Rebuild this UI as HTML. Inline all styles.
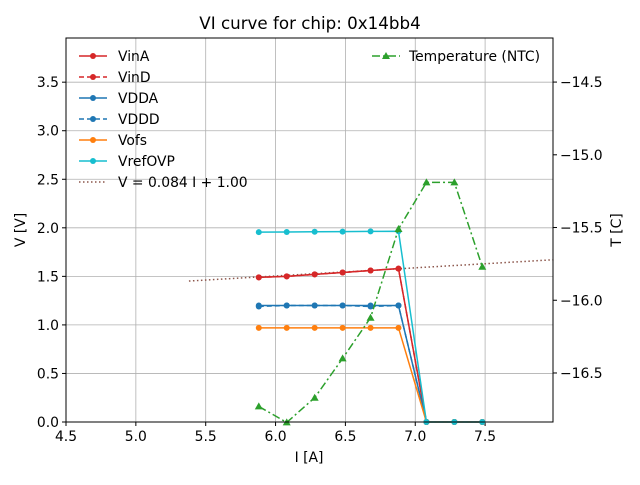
<!DOCTYPE html>
<html><head><meta charset="utf-8"><style>
body{margin:0;background:#fff;font-family:"Liberation Sans",sans-serif}
svg text{font-family:"DejaVu Sans","Liberation Sans",sans-serif}
</style></head><body>
<svg id="c" width="640" height="480" xmlns="http://www.w3.org/2000/svg"></svg>
<script>
const currents=[5.88,6.08,6.28,6.48,6.68,6.88,7.08,7.28,7.48];
const vinA=[1.49,1.50,1.52,1.54,1.56,1.58,0,0,0];
const vinD=[1.49,1.50,1.52,1.54,1.56,1.58,0,0,0];
const vdda=[1.20,1.20,1.20,1.20,1.20,1.20,0,0,0];
const vddd=[1.19,1.20,1.20,1.20,1.19,1.20,0,0,0];
const vofs=[0.97,0.97,0.97,0.97,0.97,0.97,0,0,0];
const vrefovp=[1.955,1.957,1.959,1.961,1.963,1.965,0,0,0];
const temperature=[-16.73,-16.84,-16.67,-16.40,-16.12,-15.51,-15.19,-15.19,-15.77];
const fitSlope=0.084, fitIntercept=1.00, fitRange=[5.38,7.99];
const xTicks=[4.5,5.0,5.5,6.0,6.5,7.0,7.5];
const yTicks=[0,0.5,1.0,1.5,2.0,2.5,3.0,3.5];
const tTicks=[-14.5,-15.0,-15.5,-16.0,-16.5];

const L=66,R=553,T=38,B=422;
const X=v=>L+(v-4.5)/(7.986-4.5)*(R-L);
const Y=v=>B-(v/3.955)*(B-T);
const TY=v=>B-(v+16.837)/(16.837-14.197)*(B-T);
const s=document.getElementById('c');
const NS='http://www.w3.org/2000/svg';
function el(t,a,p){const e=document.createElementNS(NS,t);for(const k in a)e.setAttribute(k,a[k]);(p||s).appendChild(e);return e;}
function txt(x,y,str,a){const e=el('text',Object.assign({x:x,y:y,'font-size':13.9,fill:'#000'},a||{}));e.textContent=str;return e;}
xTicks.forEach(v=>{const g=el('line',{x1:X(v),x2:X(v),y1:T,y2:B,stroke:'#b0b0b0','stroke-width':0.8});


el('line',{x1:X(v),x2:X(v),y1:B,y2:B+4,stroke:'#000'});
const t=txt(X(v),B+19,v.toFixed(1),{'text-anchor':'middle'});

});
yTicks.forEach(v=>{const g=el('line',{x1:L,x2:R,y1:Y(v),y2:Y(v),stroke:'#b0b0b0','stroke-width':0.8});


el('line',{x1:L-4,x2:L,y1:Y(v),y2:Y(v),stroke:'#000'});
const t=txt(L-7,Y(v)+5,v.toFixed(1),{'text-anchor':'end'});

});
tTicks.forEach(v=>{el('line',{x1:R,x2:R+4,y1:TY(v),y2:TY(v),stroke:'#000'});
const t=txt(R+7,TY(v)+5,v.toFixed(1).replace('-','\u2212'),{});

});
const fl=el('line',{x1:X(fitRange[0]),x2:X(fitRange[1]),y1:Y(fitSlope*fitRange[0]+fitIntercept),y2:Y(fitSlope*fitRange[1]+fitIntercept),stroke:'#8c564b','stroke-width':1.5,'stroke-dasharray':'1.5,2.5'});


function series(name,vals,color,dash,yf,marker){
 const g=el('g',{});
 
 
 el('polyline',{points:vals.map((v,i)=>X(currents[i])+','+yf(v)).join(' '),fill:'none',stroke:color,'stroke-width':1.5,'stroke-dasharray':dash||''},g);
 vals.forEach((v,i)=>{const x=X(currents[i]),y=yf(v);
  if(marker==='tri')el('polygon',{points:`${x},${y-4} ${x-4},${y+3} ${x+4},${y+3}`,fill:color},g);
  else el('circle',{cx:x,cy:y,r:3,fill:color},g);});
}
series('vina-series',vinA,'#d62728','',Y);
series('vind-series',vinD,'#d62728','5,3',Y);
series('vdda-series',vdda,'#1f77b4','',Y);
series('vddd-series',vddd,'#1f77b4','5,3',Y);
series('vofs-series',vofs,'#ff7f0e','',Y);
series('vrefovp-series',vrefovp,'#17becf','',Y);
series('temperature-series',temperature,'#2ca02c','8,3,2,3',TY,'tri');
el('rect',{x:L,y:T,width:R-L,height:B-T,fill:'none',stroke:'#000','stroke-width':1});
let t=txt(310,29,'VI curve for chip: 0x14bb4',{'text-anchor':'middle','font-size':16.7});

t=txt(309,462,'I [A]',{'text-anchor':'middle'});

t=txt(25,230,'V [V]',{'text-anchor':'middle',transform:'rotate(-90 25 230)'});

t=txt(621,230,'T [C]',{'text-anchor':'middle',transform:'rotate(-90 621 230)'});

const leg=[['VinA','#d62728',''],['VinD','#d62728','5,3'],['VDDA','#1f77b4',''],['VDDD','#1f77b4','5,3'],['Vofs','#ff7f0e',''],['VrefOVP','#17becf',''],['V = 0.084 I + 1.00','#8c564b','1.5,2.5']];
leg.forEach((l,i)=>{const y=56+i*21;const g=el('g',{});


el('line',{x1:79,x2:107,y1:y,y2:y,stroke:l[1],'stroke-width':1.5,'stroke-dasharray':l[2]},g);
if(i<6)el('circle',{cx:93,cy:y,r:3,fill:l[1]},g);
const tt=txt(118,y+5,l[0],{});g.appendChild(tt);});
const g2=el('g',{});


el('line',{x1:372,x2:400,y1:56,y2:56,stroke:'#2ca02c','stroke-width':1.5,'stroke-dasharray':'8,3,2,3'},g2);
el('polygon',{points:'386,52 382,59 390,59',fill:'#2ca02c'},g2);
g2.appendChild(txt(409,61,'Temperature (NTC)',{}));
</script>
</body></html>
